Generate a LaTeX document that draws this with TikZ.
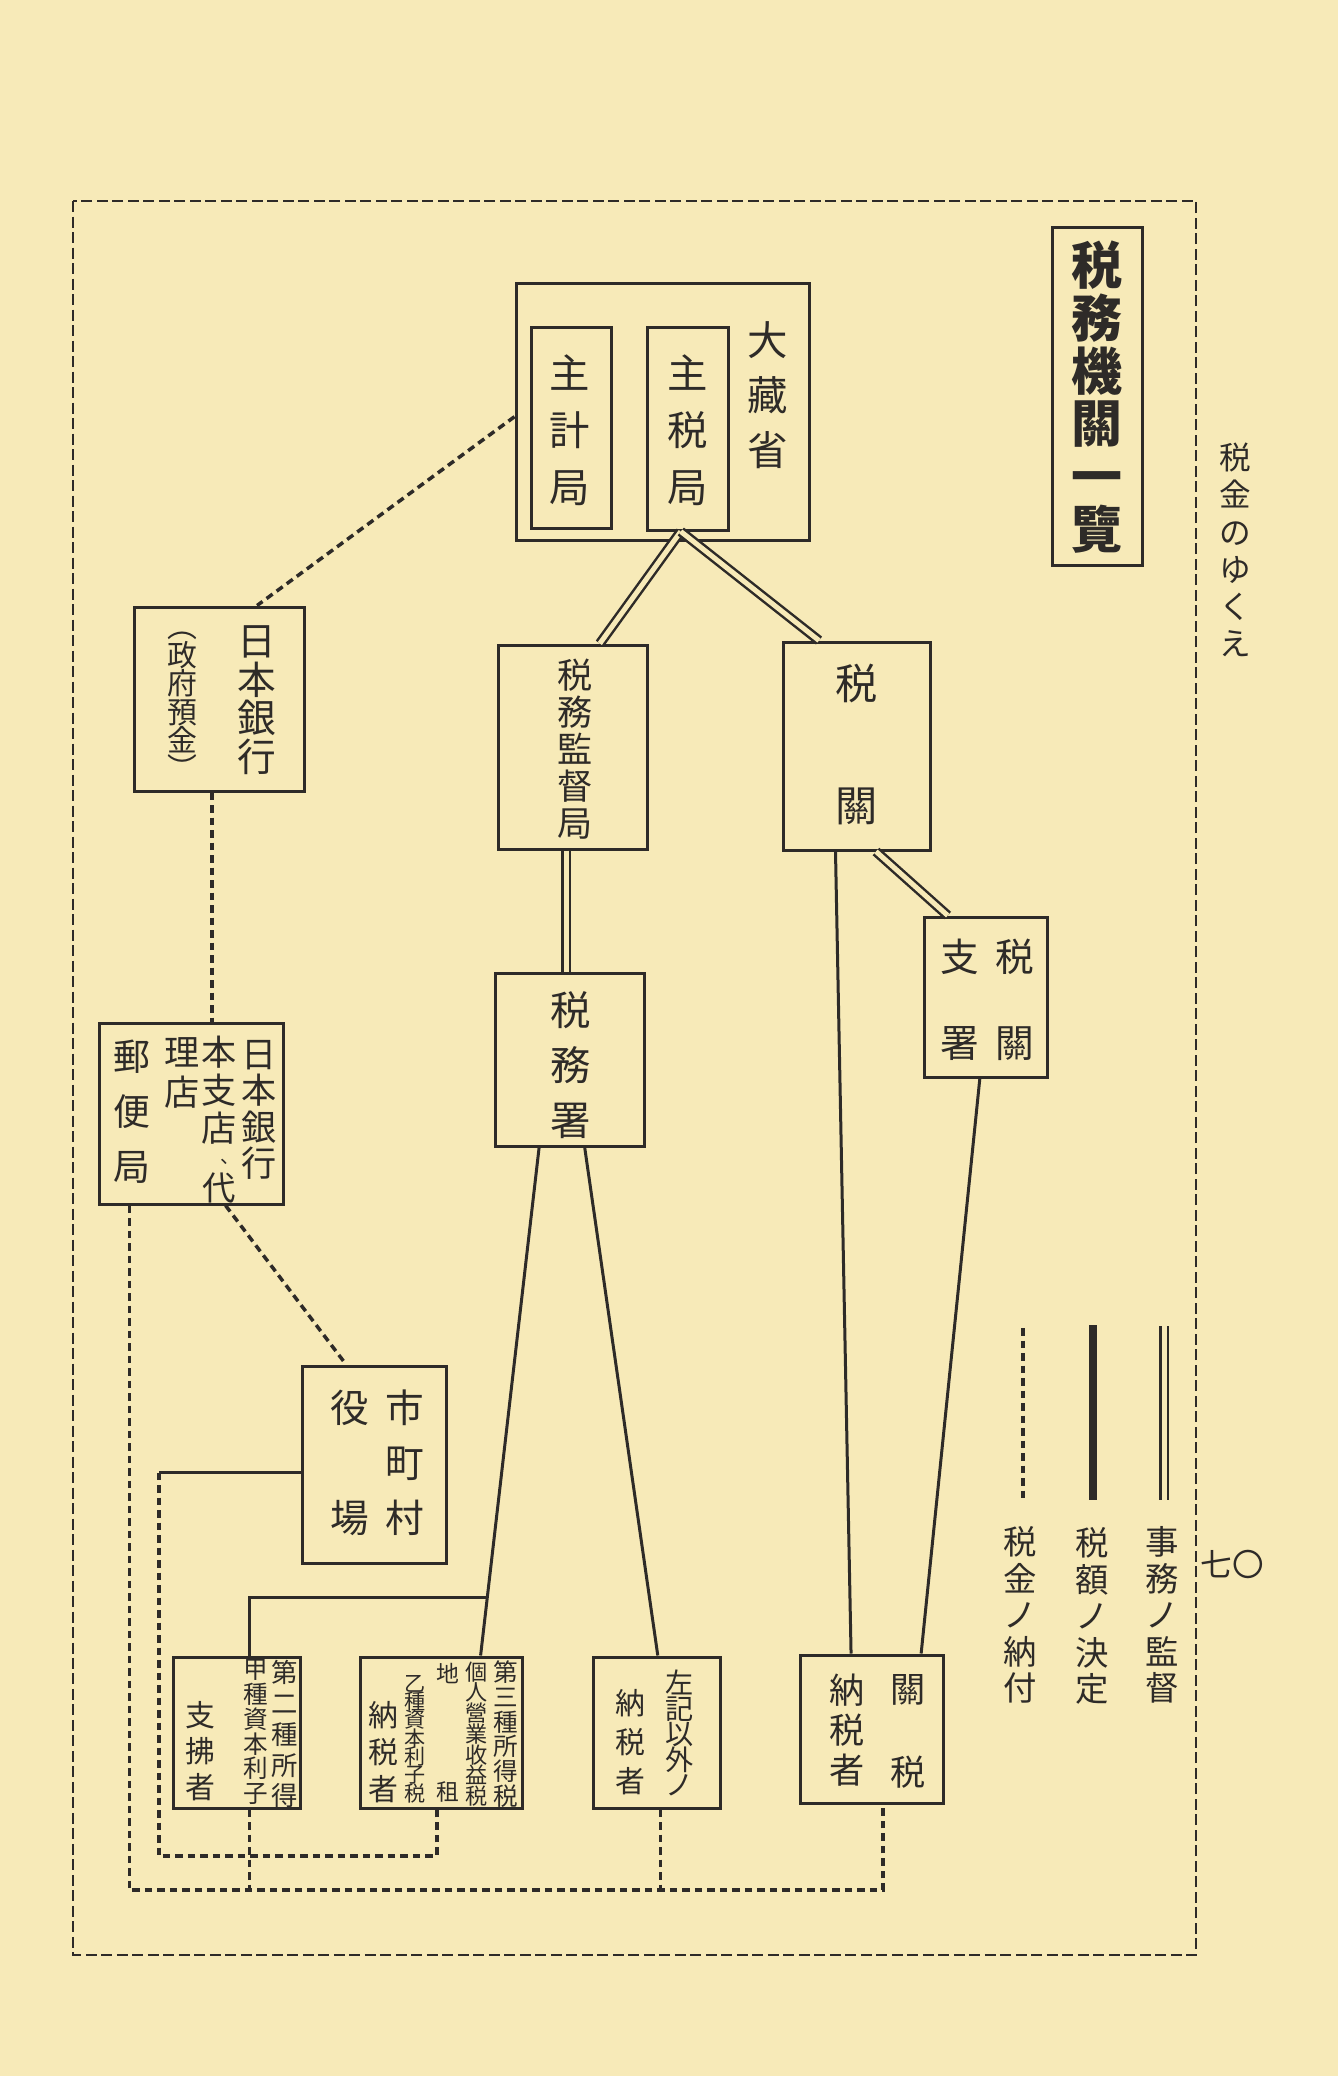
\documentclass[tikz,border=0pt]{standalone}
\usepackage{fontspec}
\usepackage{tikz}
\usetikzlibrary{calc}
\newfontfamily\jp{Noto Sans CJK JP}
\definecolor{paper}{RGB}{247,234,184}
\definecolor{ink}{RGB}{46,43,40}

\begin{document}
\begin{tikzpicture}
	[x=0.1mm, y=-0.1mm,
	box/.style = {draw=ink, line width=0.3mm, inner sep=0pt},
	col/.style 2 args = {align=center, inner sep=0pt, text=ink, font={\jp\fontsize{#1}{#2}\selectfont\lineskiplimit-50pt\lineskip0pt}},
	head/.style = {align=center, inner sep=0pt, text=ink, font={\jp\bfseries\fontsize{14.5pt}{15pt}\selectfont\lineskiplimit-50pt\lineskip0pt}},
	duty/.style = {draw=ink, line width=0.25mm, double=paper, double distance=0.5mm},
	assess/.style = {draw=ink, line width=0.3mm},
	pay/.style = {draw=ink, line width=0.35mm, dash pattern=on 0.75mm off 0.5mm},
	frame/.style = {draw=ink, line width=0.22mm, dash pattern=on 1.1mm off 0.45mm}]
	\fill[paper] (0,0) rectangle (1338,2076);
	\draw[frame] (73,201) rectangle (1196,1955);
	\node[col={9pt}{10.6pt}] (runhead) at (1235,550) {税\\金\\の\\ゆ\\く\\え};
	\node[col={9pt}{10pt}] (pageno) at (1232,1564) {七〇};
	\node[box, minimum width=9mm, minimum height=33.8mm] (title) at (1097,396) {};
	\node[head] (titleT) at (1097,397) {税\\務\\機\\關\\一\\覽};
	\node[box, minimum width=29.3mm, minimum height=25.7mm] (okura) at (662.5,411.5) {};
	\node[box, minimum width=8mm, minimum height=20.1mm] (shukei) at (571,427.5) {};
	\node[box, minimum width=8.1mm, minimum height=20.3mm] (shuzei) at (687.5,428.5) {};
	\node[col={11.5pt}{15.6pt}] (okuraT) at (768,395) {大\\藏\\省};
	\node[col={11.5pt}{16.2pt}] (shukeiT) at (570,430) {主\\計\\局};
	\node[col={11.5pt}{16.2pt}] (shuzeiT) at (688,430) {主\\税\\局};
	\node[box, minimum width=14.9mm, minimum height=20.4mm] (kantoku) at (572.5,747) {};
	\node[col={10pt}{10.5pt}] (kantokuT) at (575,749) {税\\務\\監\\督\\局};
	\node[box, minimum width=14.7mm, minimum height=20.8mm] (zeikan) at (856.5,746) {};
	\node[col={12pt}{34.7pt}] (zeikanT) at (857,744) {税\\關};
	\node[box, minimum width=12.3mm, minimum height=16mm] (shisho) at (985.5,997) {};
	\node[col={11pt}{24.5pt}] (shishoA) at (1015,1000) {税\\關};
	\node[col={11pt}{24.5pt}] (shishoB) at (960,1000) {支\\署};
	\node[box, minimum width=14.9mm, minimum height=17.3mm] (zeimusho) at (569.5,1059.5) {};
	\node[col={11.5pt}{15.6pt}] (zeimushoT) at (571,1065) {税\\務\\署};
	\node[box, minimum width=17mm, minimum height=18.4mm] (nichigin) at (219,699) {};
	\node[col={11pt}{11pt}] (nichiginA) at (257,700) {日\\本\\銀\\行};
	\node[col={8.5pt}{8.1pt}] (nichiginB) at (182,706) {︵\\政\\府\\預\\金\\︶};
	\node[box, minimum width=18.4mm, minimum height=18.1mm] (dairiten) at (191,1113.5) {};
	\node[col={10pt}{10.4pt}] (dairitenA) at (259,1110) {日\\本\\銀\\行};
	\node[col={10pt}{10.8pt}] (dairitenB) at (219,1090) {本\\支\\店};
	\node[col={5.5pt}{6pt}] (dairitenC) at (230,1162) {、};
	\node[col={9.5pt}{10pt}] (dairitenD) at (219,1188) {代};
	\node[col={10pt}{11.4pt}] (dairitenE) at (182,1073) {理\\店};
	\node[col={10.5pt}{15.6pt}] (dairitenF) at (132,1112) {郵\\便\\局};
	\node[box, minimum width=14.4mm, minimum height=19.7mm] (shichoson) at (374,1464.5) {};
	\node[col={11pt}{15.6pt}] (shichosonA) at (405,1463) {市\\町\\村};
	\node[col={11pt}{31.3pt}] (shichosonB) at (350,1463) {役\\場};
	\node[box, minimum width=12.7mm, minimum height=15.1mm] (shiharai) at (236.5,1732.5) {};
	\node[col={7.5pt}{8.8pt}] (shiharaiA) at (285,1734) {第\\二\\種\\所\\得};
	\node[col={7pt}{7.1pt}] (shiharaiB) at (256,1732) {甲\\種\\資\\本\\利\\子};
	\node[col={8.5pt}{10.2pt}] (shiharaiC) at (200,1751) {支\\拂\\者};
	\node[box, minimum width=16.2mm, minimum height=15.1mm] (kojin) at (441,1732.5) {};
	\node[col={7pt}{7.05pt}] (kojinA) at (506,1734) {第\\三\\種\\所\\得\\税};
	\node[col={6.3pt}{5.9pt}] (kojinB) at (477,1734) {個\\人\\營\\業\\收\\益\\税};
	\node[col={6.5pt}{33.5pt}] (kojinC) at (448,1733) {地\\租};
	\node[col={6pt}{5.2pt}] (kojinD) at (415,1739) {乙\\種\\資\\本\\利\\子\\税};
	\node[col={8.5pt}{10.5pt}] (kojinE) at (383,1752) {納\\税\\者};
	\node[box, minimum width=12.7mm, minimum height=15.1mm] (sonota) at (656.5,1732.5) {};
	\node[col={8pt}{7.25pt}] (sonotaA) at (680,1733) {左\\記\\以\\外\\ノ};
	\node[col={8.5pt}{11pt}] (sonotaB) at (630,1742) {納\\税\\者};
	\node[box, minimum width=14.3mm, minimum height=14.8mm] (kanzei) at (871.5,1729) {};
	\node[col={10pt}{23.6pt}] (kanzeiA) at (908,1731) {關\\税};
	\node[col={10pt}{11.4pt}] (kanzeiB) at (847,1730) {納\\税\\者};
	\draw[duty] ($(shuzei.south west)!0.42!(shuzei.south east)$) -- ($(kantoku.north west)!0.68!(kantoku.north east)$);
	\draw[duty] ($(shuzei.south west)!0.42!(shuzei.south east)$) -- ($(zeikan.north west)!0.25!(zeikan.north east)$);
	\draw[duty] ($(kantoku.south west)!0.46!(kantoku.south east)$) coordinate (k1) -- (k1 |- zeimusho.north);
	\draw[duty] ($(zeikan.south west)!0.63!(zeikan.south east)$) -- ($(shisho.north west)!0.2!(shisho.north east)$);
	\draw[assess] ($(zeikan.south west)!0.36!(zeikan.south east)$) -- ($(kanzei.north west)!0.36!(kanzei.north east)$);
	\draw[assess] ($(shisho.south west)!0.455!(shisho.south east)$) -- ($(kanzei.north west)!0.84!(kanzei.north east)$);
	\draw[assess] ($(zeimusho.south west)!0.3!(zeimusho.south east)$) coordinate (z1) -- ($(kojin.north west)!0.74!(kojin.north east)$) coordinate (z2);
	\draw[assess] ($(zeimusho.south west)!0.6!(zeimusho.south east)$) -- ($(sonota.north west)!0.51!(sonota.north east)$);
	\draw[assess] ($(shiharai.north west)!0.6!(shiharai.north east)$) |- ($(z1)!0.886!(z2)$);
	\draw[pay] ($(okura.north west)!0.52!(okura.south west)$) -- ($(nichigin.north west)!0.72!(nichigin.north east)$);
	\draw[pay] ($(nichigin.south west)!0.46!(nichigin.south east)$) coordinate (n1) -- (n1 |- dairiten.north);
	\draw[pay] ($(dairiten.south west)!0.685!(dairiten.south east)$) -- ($(shichoson.north west)!0.31!(shichoson.north east)$);
	\coordinate (loopA) at (159,1856);
	\coordinate (loopB) at (131,1890);
	\draw[assess] ($(shichoson.north west)!0.54!(shichoson.south west)$) coordinate (m1) -- (m1 -| loopA);
	\draw[pay] (m1 -| loopA) -- (loopA) -| ($(kojin.south west)!0.475!(kojin.south east)$);
	\draw[pay] ($(dairiten.south west)!0.17!(dairiten.south east)$) coordinate (d1) -- (d1 |- loopB) -| ($(kanzei.south west)!0.58!(kanzei.south east)$);
	\draw[pay] ($(shiharai.south west)!0.6!(shiharai.south east)$) coordinate (a1) -- (a1 |- loopB);
	\draw[pay] ($(sonota.south west)!0.53!(sonota.south east)$) coordinate (c1) -- (c1 |- loopB);
	\coordinate (keyA) at (1164,1326);
	\coordinate (keyB) at (1164,1500);
	\coordinate (keyC) at (1093,1325);
	\coordinate (keyD) at (1093,1500);
	\coordinate (keyE) at (1023,1328);
	\coordinate (keyF) at (1023,1500);
	\draw[duty] (keyA) -- (keyB);
	\draw[assess, line width=0.8mm] (keyC) -- (keyD);
	\draw[pay] (keyE) -- (keyF);
	\node[col={9.5pt}{10.4pt}] (keyT1) at (1162,1615) {事\\務\\ノ\\監\\督};
	\node[col={9.5pt}{10.4pt}] (keyT2) at (1092,1616) {税\\額\\ノ\\決\\定};
	\node[col={9.5pt}{10.4pt}] (keyT3) at (1020,1615) {税\\金\\ノ\\納\\付};
\end{tikzpicture}
\end{document}
